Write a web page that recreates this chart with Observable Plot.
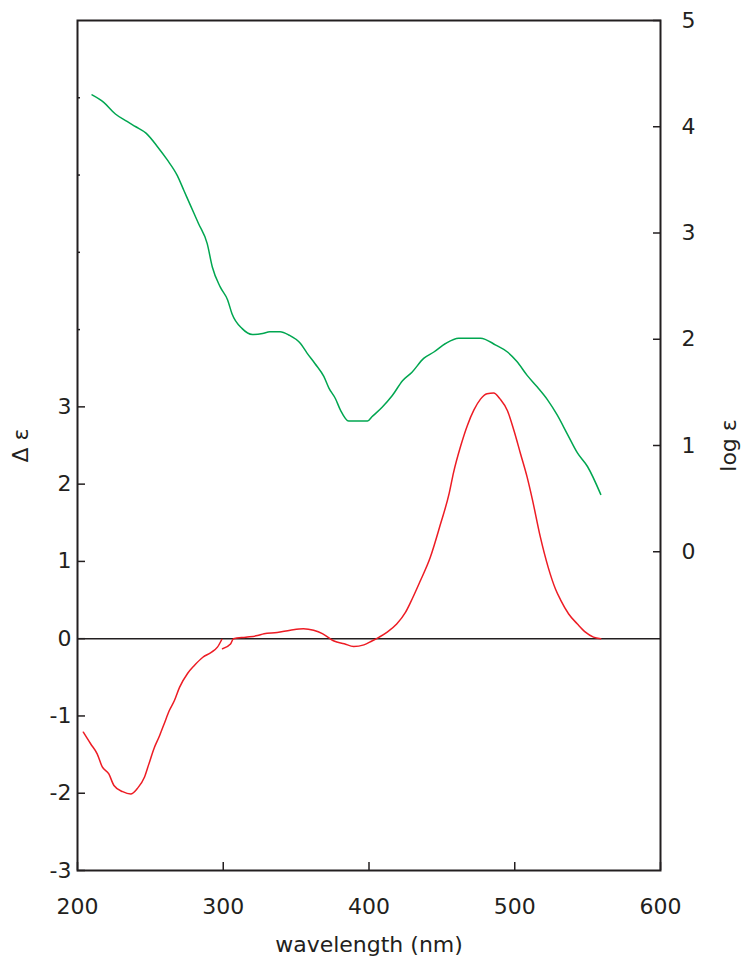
<!DOCTYPE html>
<html><head><meta charset="utf-8">
<script src="https://cdn.jsdelivr.net/npm/d3@7"></script>
<script src="https://cdn.jsdelivr.net/npm/@observablehq/plot@0.6"></script>
<style>
body{margin:0;background:#fff;}
#wrap{position:relative;width:745px;height:960px;}
#wrap svg{position:absolute;left:0;top:0;}
</style></head><body><div id="wrap"></div>
<script>
// ---- data ----
const greenWl  = [210,218,226,234,240,247,255,261.5,268.5,273,277.5,283,289,292.5,298,303,306,313,320,327,332,339,345,353,357.5,363,369,372.5,377,380.5,386,399,402,409,416,423,429.5,437.5,444.5,452.5,461.5,476.5,487,495,501.5,508.5,515.5,522.5,529,536,543,550,559];
const greenLog = [4.30,4.23,4.12,4.05,4.00,3.94,3.81,3.69,3.54,3.40,3.26,3.09,2.90,2.68,2.49,2.37,2.24,2.10,2.045,2.055,2.07,2.07,2.04,1.96,1.87,1.77,1.65,1.54,1.44,1.33,1.23,1.23,1.27,1.36,1.47,1.61,1.69,1.82,1.88,1.96,2.01,2.01,1.945,1.88,1.79,1.66,1.55,1.43,1.29,1.11,0.93,0.80,0.54];

const redWl1 = [204,209,213.5,217,221.5,225,231,236.5,241,246,249,252.5,256,259.5,263,266.5,270,275.5,280,286,291.5,296,299];
const redDe1 = [-1.21,-1.36,-1.49,-1.66,-1.75,-1.90,-1.98,-2.01,-1.94,-1.79,-1.62,-1.42,-1.27,-1.10,-0.93,-0.80,-0.63,-0.45,-0.35,-0.24,-0.18,-0.11,-0.01];
const redWl2 = [299.5,305,307,315.5,323.5,328,337,346,355,362,368,372.5,376,383,389.5,396.5,402,407,412.5,419,425,428.5,435,442,449,455,458,463,467.5,472,476.5,481,485.5,490,495,499.5,504,508.5,512,517.5,523,528,531.5,537,543,548.5,554,559];
const redDe2 = [-0.13,-0.07,0.00,0.02,0.04,0.065,0.08,0.11,0.13,0.11,0.065,0.01,-0.03,-0.065,-0.10,-0.08,-0.03,0.02,0.085,0.19,0.34,0.47,0.74,1.05,1.48,1.88,2.15,2.50,2.76,2.96,3.10,3.17,3.18,3.10,2.95,2.69,2.39,2.09,1.81,1.32,0.92,0.64,0.50,0.32,0.19,0.085,0.02,0.00];

const xTicks = [200,300,400,500,600];
const leftLabelTicks = [-3,-2,-1,0,1,2,3];
const leftMinorTicks = [4,5,6,7];
const rightTicks = [0,1,2,3,4,5];
const leftTitle = "Δ ε";
const rightTitle = "log ε";
const xTitle = "wavelength (nm)";

// ---- tables ----
const red = [
  ...redWl1.map((w,i)=>({wl:w, de:redDe1[i], seg:1})),
  ...redWl2.map((w,i)=>({wl:w, de:redDe2[i], seg:2}))
];
const green = greenWl.map((w,i)=>({wl:w, le:greenLog[i]}));

const ink = "#231f20";
const FS = 22;
const common = {
  width: 745, height: 960,
  marginLeft: 77, marginRight: 85, marginTop: 20, marginBottom: 90,
  style: {fontFamily: "'DejaVu Sans', sans-serif", fontSize: FS + "px", color: ink, background: "transparent"}
};

const p1 = Plot.plot({
  ...common,
  x: {domain: [200, 600]},
  y: {domain: [-3, 8]},
  marks: [
    Plot.ruleY([0], {stroke: ink, strokeWidth: 1.6}),
    Plot.line(red, {x: "wl", y: "de", z: "seg", stroke: "#ed1c24", strokeWidth: 1.5, curve: "monotone-x"}),
    Plot.frame({stroke: ink, strokeWidth: 2}),
    Plot.axisY({anchor: "left", ticks: leftLabelTicks, tickSize: 8, dx: 8, fill: "none", label: null, strokeWidth: 1.5}),
    Plot.axisY({anchor: "left", ticks: leftMinorTicks, tickSize: 3, dx: 3, fill: "none", label: null, strokeWidth: 1.5}),
    Plot.axisY({anchor: "left", ticks: leftLabelTicks, tickSize: 0, tickPadding: 6, tickFormat: d => String(d), label: null, fontSize: FS}),
    Plot.axisX({anchor: "bottom", ticks: xTicks, tickSize: 8, dy: -8, fill: "none", label: null, strokeWidth: 1.5}),
    Plot.axisX({anchor: "bottom", ticks: xTicks, tickSize: 0, tickPadding: 28, tickFormat: d => String(d), label: null, fontSize: FS}),
    Plot.text([leftTitle], {text: d => d, frameAnchor: "left", dx: -65, rotate: -90, lineAnchor: "top", textAnchor: "middle", fontSize: FS, fill: ink}),
    Plot.text([xTitle], {text: d => d, frameAnchor: "bottom", dy: 81, lineAnchor: "bottom", textAnchor: "middle", fontSize: FS, fill: ink})
  ]
});

const p2 = Plot.plot({
  ...common,
  x: {domain: [200, 600], axis: null},
  y: {domain: [-3, 5]},
  marks: [
    Plot.line(green, {x: "wl", y: "le", stroke: "#00a650", strokeWidth: 1.5, curve: "monotone-x"}),
    Plot.axisY({anchor: "right", ticks: rightTicks, tickSize: 8, dx: -8, fill: "none", label: null, strokeWidth: 1.5}),
    Plot.axisY({anchor: "right", ticks: rightTicks, tickSize: 0, tickPadding: 21, tickFormat: d => String(d), label: null, fontSize: FS}),
    Plot.text([rightTitle], {text: d => d, frameAnchor: "right", dx: 60, rotate: -90, lineAnchor: "top", textAnchor: "middle", fontSize: FS, fill: ink})
  ]
});
p2.style.pointerEvents = "none";

const wrap = document.getElementById("wrap");
wrap.appendChild(p1);
wrap.appendChild(p2);
</script>
</body></html>
